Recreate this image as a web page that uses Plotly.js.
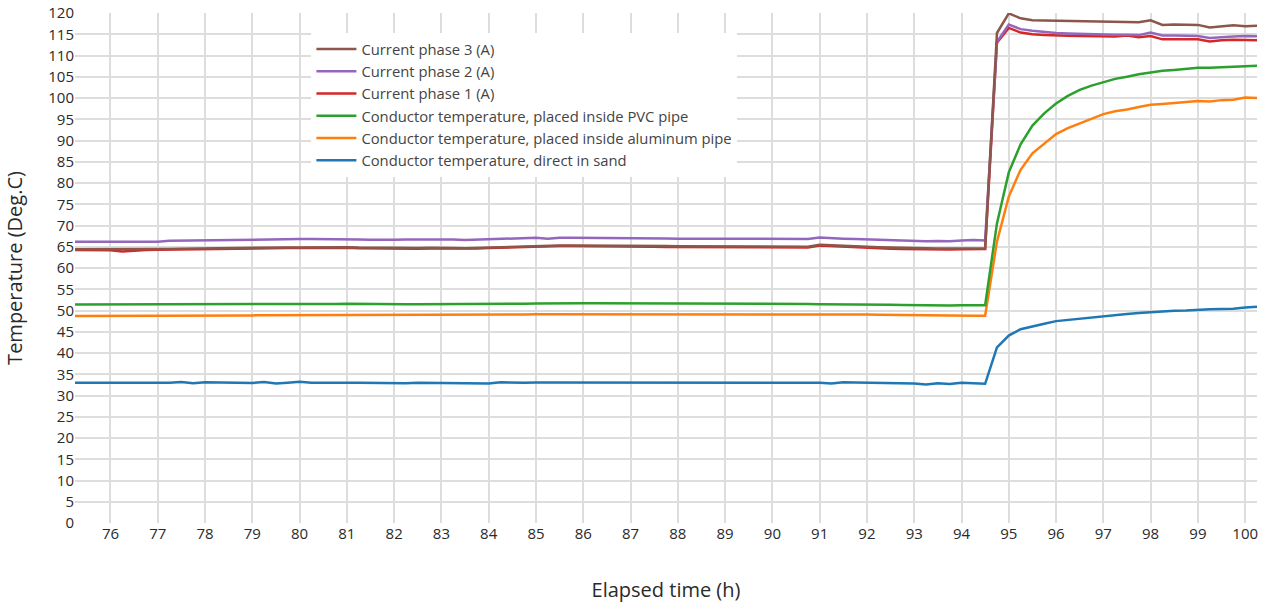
<!DOCTYPE html>
<html>
<head>
<meta charset="utf-8">
<script src="https://cdn.plot.ly/plotly-3.0.1.min.js"></script>
<style>html,body{margin:0;padding:0;background:#fff;}#chart{width:1267px;height:608px;}</style>
</head>
<body>
<div id="chart"></div>
<script>
// Sampling grid: every 0.25 h from 75.25 h to 100.25 h
var startHour = 75.25, stepHour = 0.25, nSamples = 101;
var elapsedHours = [];
for (var i = 0; i < nSamples; i++) elapsedHours.push(+(startHour + i * stepHour).toFixed(2));

var seriesNames = [
  "Conductor temperature, direct in sand",
  "Conductor temperature, placed inside aluminum pipe",
  "Conductor temperature, placed inside PVC pipe",
  "Current phase 1 (A)",
  "Current phase 2 (A)",
  "Current phase 3 (A)"
];

var directInSand = [
  33.0, 33.0, 33.0,
  33.0, 33.0, 33.0, 33.0,
  33.0, 33.0, 33.2, 32.9,
  33.1, 33.05, 33.0, 32.95,
  32.95, 33.15, 32.8, 33.0,
  33.25, 33.0, 33.05, 33.1,
  33.0, 33.0, 32.95, 32.95,
  32.95, 32.9, 33.0, 32.95,
  32.95, 32.9, 32.9, 32.9,
  32.85, 33.1, 33.0, 33.0,
  33.05, 33.05, 33.05, 33.05,
  33.05, 33.05, 33.05, 33.05,
  33.05, 33.0, 33.0, 33.0,
  33.0, 33.0, 33.0, 33.0,
  33.0, 33.0, 33.0, 33.0,
  33.0, 33.0, 33.0, 33.15,
  33.0, 32.85, 33.1, 33.05,
  33.0, 32.95, 32.9, 32.9,
  32.8, 32.6, 32.9, 32.7,
  33.0, 32.9, 32.75,
  41.3, 44.1, 45.6, 46.3, 46.9, 47.5, 47.8, 48.1, 48.4, 48.7, 48.9, 49.2,
  49.4, 49.6, 49.9, 49.95, 50.0, 50.2, 50.3, 50.35, 50.4, 50.7, 50.9
];

var aluminumPipe = [
  48.7, 48.7, 48.7,
  48.7, 48.7, 48.7, 48.7,
  48.7, 48.7, 48.7, 48.7,
  48.7, 48.75, 48.8, 48.85,
  48.85, 48.9, 48.9, 48.9,
  48.95, 48.95, 49.0, 49.0,
  49.05, 49.0, 49.0, 49.0,
  49.0, 48.95, 48.95, 48.95,
  48.95, 48.9, 48.95, 48.95,
  49.0, 49.0, 49.05, 49.05,
  49.1, 49.1, 49.1, 49.15,
  49.15, 49.15, 49.2, 49.2,
  49.2, 49.2, 49.15, 49.15,
  49.15, 49.15, 49.15, 49.15,
  49.15, 49.15, 49.15, 49.15,
  49.15, 49.15, 49.15, 49.15,
  49.1, 49.1, 49.1, 49.1,
  49.05, 49.0, 48.95, 48.9,
  48.85, 48.8, 48.75, 48.7,
  48.75, 48.75, 48.75,
  66.2, 76.8, 83.1, 87.0, 89.3, 91.5, 92.9, 94.0, 95.1, 96.2, 96.9, 97.3,
  97.9, 98.4, 98.6, 98.8, 99.1, 99.3, 99.2, 99.5, 99.6, 100.1, 100.0
];

var pvcPipe = [
  51.4, 51.4, 51.4,
  51.4, 51.4, 51.4, 51.4,
  51.4, 51.4, 51.4, 51.4,
  51.4, 51.45, 51.5, 51.5,
  51.5, 51.5, 51.5, 51.5,
  51.5, 51.55, 51.55, 51.55,
  51.6, 51.55, 51.55, 51.5,
  51.5, 51.5, 51.5, 51.5,
  51.45, 51.45, 51.45, 51.45,
  51.5, 51.5, 51.55, 51.6,
  51.65, 51.7, 51.7, 51.7,
  51.7, 51.7, 51.7, 51.7,
  51.7, 51.65, 51.65, 51.65,
  51.6, 51.6, 51.6, 51.6,
  51.6, 51.6, 51.55, 51.55,
  51.55, 51.55, 51.55, 51.55,
  51.5, 51.5, 51.5, 51.5,
  51.45, 51.4, 51.35, 51.3,
  51.25, 51.2, 51.2, 51.2,
  51.25, 51.25, 51.25,
  70.5, 82.5, 89.1, 93.5, 96.4, 98.7, 100.5, 101.9, 102.9, 103.7, 104.5, 105.0,
  105.6, 106.0, 106.4, 106.6, 106.8, 107.1, 107.1, 107.2, 107.3, 107.5, 107.6
];

var currentPhase1 = [
  64.25, 64.25, 64.25,
  64.2, 63.9, 64.1, 64.25,
  64.3, 64.35, 64.4, 64.4,
  64.45, 64.5, 64.5, 64.55,
  64.6, 64.65, 64.65, 64.7,
  64.7, 64.75, 64.75, 64.8,
  64.75, 64.65, 64.6, 64.55,
  64.5, 64.55, 64.55, 64.6,
  64.6, 64.5, 64.45, 64.6,
  64.7, 64.8, 64.9, 65.0,
  65.1, 65.1, 65.15, 65.15,
  65.15, 65.15, 65.1, 65.1,
  65.1, 65.05, 65.0, 64.95,
  64.95, 64.9, 64.9, 64.9,
  64.9, 64.9, 64.9, 64.9,
  64.85, 64.85, 64.85, 64.85,
  65.3, 65.15, 65.0, 64.9,
  64.8, 64.65, 64.55, 64.45,
  64.4, 64.35, 64.35, 64.35,
  64.4, 64.5, 64.45,
  113.0, 116.5, 115.4, 115.0, 114.85, 114.7, 114.65, 114.6, 114.55, 114.5, 114.45, 114.7,
  114.3, 114.6, 113.8, 113.85, 113.9, 113.8, 113.3, 113.6, 113.7, 113.65, 113.6
];

var currentPhase2 = [
  66.2, 66.2, 66.2,
  66.2, 66.2, 66.2, 66.2,
  66.2, 66.4, 66.45, 66.5,
  66.5, 66.55, 66.65, 66.7,
  66.7, 66.7, 66.75, 66.75,
  66.8, 66.8, 66.8, 66.85,
  66.8, 66.7, 66.65, 66.6,
  66.65, 66.7, 66.7, 66.75,
  66.8, 66.7, 66.6, 66.7,
  66.8, 66.85, 66.9, 67.0,
  67.1, 66.9, 67.1, 67.1,
  67.1, 67.1, 67.1, 67.1,
  67.1, 67.05, 67.0, 66.95,
  66.9, 66.9, 66.9, 66.9,
  66.9, 66.9, 66.85, 66.85,
  66.85, 66.85, 66.85, 66.85,
  67.2, 67.0, 66.9, 66.8,
  66.7, 66.6, 66.5, 66.4,
  66.35, 66.3, 66.35, 66.3,
  66.45, 66.6, 66.5,
  113.2, 117.3, 116.2, 115.8, 115.5, 115.3, 115.2, 115.1, 115.0, 114.95, 114.9, 114.9,
  114.8, 115.4, 114.7, 114.7, 114.65, 114.6, 114.1, 114.35, 114.5, 114.6, 114.55
];

var currentPhase3 = [
  64.4, 64.4, 64.4,
  64.4, 64.35, 64.4, 64.45,
  64.5, 64.5, 64.55, 64.6,
  64.6, 64.65, 64.7, 64.7,
  64.75, 64.8, 64.8, 64.85,
  64.85, 64.9, 64.9, 64.95,
  64.9, 64.8, 64.75, 64.7,
  64.65, 64.7, 64.7, 64.75,
  64.8, 64.7, 64.65, 64.75,
  64.85, 64.95, 65.05, 65.15,
  65.25, 65.2, 65.3, 65.3,
  65.3, 65.3, 65.25, 65.25,
  65.25, 65.2, 65.2, 65.15,
  65.1, 65.1, 65.1, 65.05,
  65.05, 65.05, 65.05, 65.05,
  65.0, 65.0, 65.0, 65.0,
  65.45, 65.3, 65.2, 65.1,
  65.0, 64.9, 64.8, 64.7,
  64.7, 64.65, 64.6, 64.6,
  64.65, 64.7, 64.6,
  115.3, 119.9, 118.75, 118.3, 118.25, 118.2, 118.15, 118.1, 118.05, 118.0, 117.95, 117.95,
  117.8, 118.3, 117.2, 117.3, 117.25, 117.2, 116.6, 116.85, 117.1, 116.9, 117.0
];

var seriesValues = [directInSand, aluminumPipe, pvcPipe, currentPhase1, currentPhase2, currentPhase3];
var seriesColors = ["#1f77b4", "#ff7f0e", "#2ca02c", "#d62728", "#9467bd", "#8c564b"];

var traces = seriesValues.map(function (vals, k) {
  return {
    type: "scatter",
    mode: "lines",
    name: seriesNames[k],
    x: elapsedHours,
    y: vals,
    line: { color: seriesColors[k], width: 2.5 }
  };
});

var layout = {
  width: 1267,
  height: 608,
  margin: { l: 75, r: 10, t: 13, b: 85 },
  paper_bgcolor: "#fff",
  plot_bgcolor: "#fff",
  font: { family: "Open Sans, sans-serif", size: 15, color: "#2a2a2a" },
  showlegend: true,
  legend: {
    x: 0.2, y: 0.961, xanchor: "left", yanchor: "top",
    bgcolor: "#fff",
    traceorder: "reversed",
    itemwidth: 40,
    font: { size: 14.8, color: "#444" }
  },
  xaxis: {
    range: [75.25, 100.25],
    dtick: 1,
    tick0: 0,
    showgrid: true,
    gridcolor: "#dddddd",
    gridwidth: 1.5,
    zeroline: false,
    showline: false,
    ticks: "",
    tickfont: { size: 15, color: "#2a2a2a" },
    title: { text: "Elapsed time (h)", font: { size: 20, color: "#2a2a2a" }, standoff: 40 }
  },
  yaxis: {
    range: [0, 120],
    dtick: 5,
    tick0: 0,
    showgrid: true,
    gridcolor: "#dddddd",
    gridwidth: 1.5,
    zeroline: false,
    showline: false,
    ticks: "",
    tickfont: { size: 15, color: "#2a2a2a" },
    title: { text: "Temperature (Deg.C)", font: { size: 20, color: "#2a2a2a" }, standoff: 20 }
  }
};

Plotly.newPlot("chart", traces, layout, { displayModeBar: false, responsive: false });
</script>
</body>
</html>
